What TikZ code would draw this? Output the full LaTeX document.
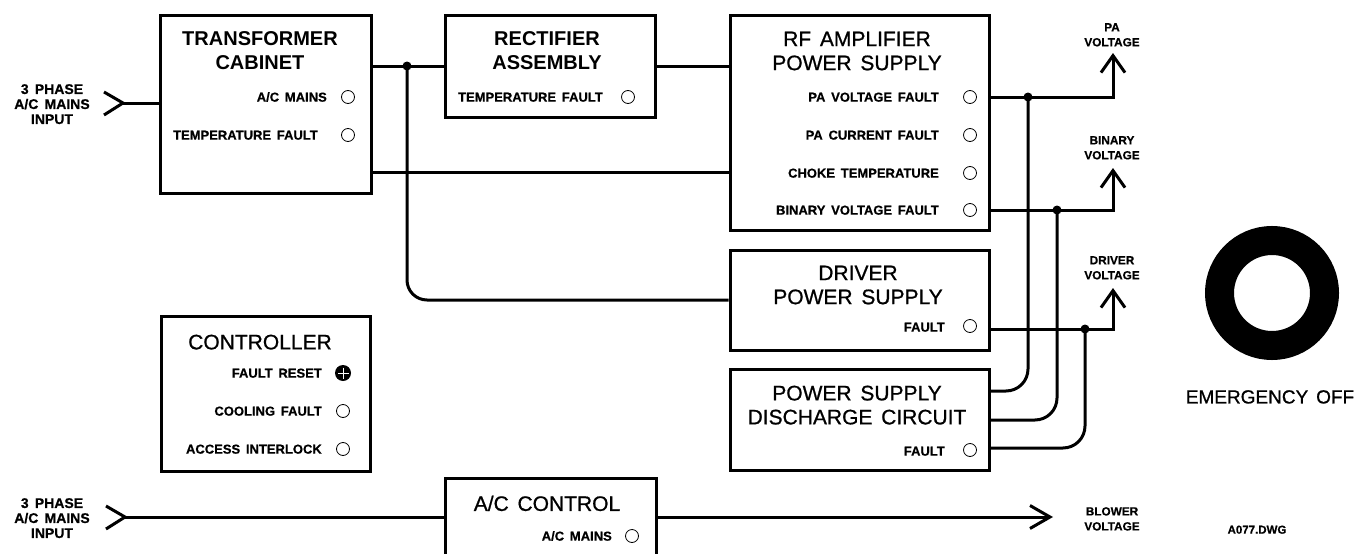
\documentclass[tikz,border=0pt]{standalone}
\usepackage{fontspec}
\setmainfont{Liberation Sans}
\newfontfamily\labfont{Liberation Sans}[WordSpace=1.6,FakeBold=0.6]
\newfontfamily\tbfont{Liberation Sans}[WordSpace=1.5]
\newfontfamily\tmfont{Liberation Sans}[WordSpace=1.5,FakeBold=0.8]
\usetikzlibrary{arrows.meta}
\begin{document}
\begin{tikzpicture}[x=1pt,y=-1pt,
 box/.style={draw, line width=3pt, inner sep=0pt, rectangle},
 wire/.style={line width=3pt},
 ind/.style={circle, draw, line width=0.8pt, minimum size=13pt, inner sep=0pt},
 dot/.style={circle, fill, inner sep=0pt, minimum size=9pt},
 lab/.style={font=\labfont\bfseries\fontsize{13}{15}\selectfont, inner sep=0pt, anchor=east, text height=9.3pt, text depth=0pt},
 ttlb/.style={font=\tbfont\bfseries\fontsize{20}{24}\selectfont, inner sep=0pt, anchor=north, align=center},
 ttlm/.style={font=\tmfont\fontsize{21}{24}\selectfont, inner sep=0pt, anchor=north, align=center},
 inlab/.style={font=\labfont\bfseries\fontsize{14}{15}\selectfont, inner sep=0pt, anchor=north, align=center},
 vlab/.style={font=\labfont\bfseries\fontsize{11.8}{15}\selectfont, inner sep=0pt, anchor=north, align=center},
 barb/.style={-{Straight Barb[length=17pt,width=24pt]}},
]
\path[use as bounding box, fill=white] (0,0) rectangle (1363,554);

% boxes
\node[box, minimum width=211pt, minimum height=178pt] (tc) at (265.5,104) {};
\node[box, minimum width=210pt, minimum height=102pt] (rect) at (550,66) {};
\node[box, minimum width=259pt, minimum height=215pt] (rf) at (859.5,122.5) {};
\node[box, minimum width=259pt, minimum height=100pt] (drv) at (859.5,300) {};
\node[box, minimum width=259pt, minimum height=101pt] (dis) at (859.5,419.5) {};
\node[box, minimum width=209pt, minimum height=155pt] (ctl) at (265.5,393.5) {};
\node[box, minimum width=211pt, minimum height=110pt] (acc) at (550.5,533) {};

% titles
\node[ttlb] (tct) at (260,31.8) {TRANSFORMER\\CABINET};
\node[ttlb] (rct) at (547,31.8) {RECTIFIER\\ASSEMBLY};
\node[ttlm] (rft) at (857,31.5) {RF AMPLIFIER\\POWER SUPPLY};
\node[ttlm] (drt) at (858,265.5) {DRIVER\\POWER SUPPLY};
\node[ttlm] (dst) at (857,385.5) {POWER SUPPLY\\DISCHARGE CIRCUIT};
\node[ttlm] (ctt) at (260,334.5) {CONTROLLER};
\node[ttlm] (act) at (547,495.5) {A/C CONTROL};

% labels and indicators
\node[lab] (l1) at (327,97) {A/C MAINS};
\node[ind] (i1) at (348,97) {};
\node[lab] (l2) at (318,135) {TEMPERATURE FAULT};
\node[ind] (i2) at (348,135) {};
\node[lab] (l3) at (603,97) {TEMPERATURE FAULT};
\node[ind] (i3) at (628,97) {};
\node[lab] (l4) at (939,97) {PA VOLTAGE FAULT};
\node[ind] (i4) at (970,97) {};
\node[lab] (l5) at (939,135) {PA CURRENT FAULT};
\node[ind] (i5) at (970,135) {};
\node[lab] (l6) at (939,173) {CHOKE TEMPERATURE};
\node[ind] (i6) at (970,173) {};
\node[lab] (l7) at (939,210) {BINARY VOLTAGE FAULT};
\node[ind] (i7) at (970,210) {};
\node[lab] (l8) at (945,327) {FAULT};
\node[ind] (i8) at (970,326) {};
\node[lab] (l9) at (945,451) {FAULT};
\node[ind] (i9) at (970,450) {};
\node[lab] (l10) at (322,373) {FAULT RESET};
\node[circle, fill, inner sep=0pt, minimum size=16pt] (fr) at (343,373) {};
\draw[white, line width=0.9pt] ([yshift=5.5pt]fr.center) -- ([yshift=-5.5pt]fr.center);
\draw[white, line width=0.9pt] ([xshift=5.5pt]fr.center) -- ([xshift=-5.5pt]fr.center);
\node[lab] (l11) at (322,411) {COOLING FAULT};
\node[ind] (i11) at (343,411) {};
\node[lab] (l12) at (322,449) {ACCESS INTERLOCK};
\node[ind] (i12) at (343,449) {};
\node[lab] (l13) at (612,536) {A/C MAINS};
\node[ind] (i13) at (632,536) {};

% inputs
\node[inlab] (inl1) at (52,84) {3 PHASE\\A/C MAINS\\INPUT};
\node[inlab] (inl2) at (52,498) {3 PHASE\\A/C MAINS\\INPUT};
\coordinate (in1) at (123,103);
\coordinate (in2) at (125,517);
\draw[wire] (in1) ++(-19,-11) -- (in1) -- ++(-19,12);
\draw[wire] (in1) -- (in1 -| tc.west);
\draw[wire] (in2) ++(-19,-11) -- (in2) -- ++(-19,12);
\draw[wire] (in2) -- (in2 -| acc.west);

% power wiring
\node[dot] (j1) at (407,66) {};
\draw[wire] (j1 -| tc.east) -- (rect.west);
\draw[wire] (rect.east) -- (rect.east -| rf.west);
\coordinate (y172) at (0,172);
\draw[wire] (tc.east |- y172) -- (rf.west |- y172);
\draw[wire, rounded corners=20pt] (j1.center) |- (drv.west);

% outputs
\node[dot] (d1) at (1028,97) {};
\node[dot] (d2) at (1057,210) {};
\node[dot] (d3) at (1085,329) {};
\coordinate (pav) at (1113,53);
\coordinate (bv) at (1113,168);
\coordinate (dv) at (1113,288);
\draw[wire, barb] (i4 -| rf.east) -| (pav);
\draw[wire, barb] (i7 -| rf.east) -| (bv);
\draw[wire, barb] (d3 -| drv.east) -| (dv);
\node[vlab] (pavl) at (1112,23) {PA\\VOLTAGE};
\node[vlab] (bvl) at (1112,136) {BINARY\\VOLTAGE};
\node[vlab] (dvl) at (1112,256) {DRIVER\\VOLTAGE};

\coordinate (k1) at (1000,391);
\coordinate (k2) at (1000,420);
\coordinate (k3) at (1000,448);
\draw[wire, rounded corners=22pt] (d1.center) |- (dis.east |- k1);
\draw[wire, rounded corners=22pt] (d2.center) |- (dis.east |- k2);
\draw[wire, rounded corners=22pt] (d3.center) |- (dis.east |- k3);

% blower
\coordinate (bl) at (1053,517);
\draw[wire, -{Straight Barb[length=20pt,width=23pt]}] (acc.east |- in2) -- (bl);
\node[vlab] (bll) at (1112,507) {BLOWER\\VOLTAGE};
\node[lab, anchor=center, font=\labfont\bfseries\fontsize{11.5}{14}\selectfont] (dwg) at (1257,529) {A077.DWG};

% emergency off
\node[circle, draw, line width=29pt, minimum size=105pt, inner sep=0pt] (eoff) at (1272,293) {};
\node[ttlm, font=\tmfont\fontsize{19}{24}\selectfont] (eofft) at (1270,390) {EMERGENCY OFF};
\end{tikzpicture}
\end{document}
